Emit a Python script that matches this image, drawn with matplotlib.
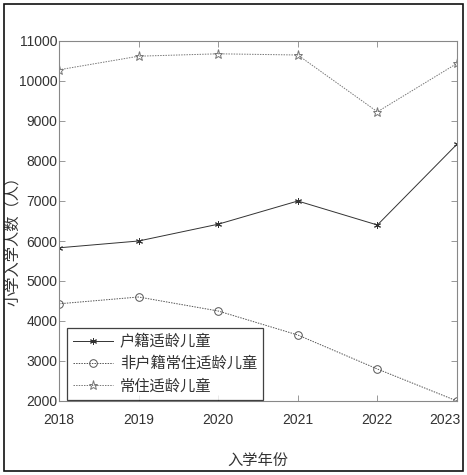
import matplotlib
matplotlib.use("Agg")
import matplotlib.pyplot as plt
from matplotlib.patches import Rectangle
from matplotlib.transforms import ScaledTranslation

plt.rcParams['font.family'] = ['Liberation Sans', 'Noto Sans CJK SC', 'DejaVu Sans']

years = [2018, 2019, 2020, 2021, 2022, 2023]
huji = [5830, 6000, 6420, 7000, 6400, 8420]
feihuji = [4430, 4600, 4250, 3650, 2800, 2000]
changzhu = [10280, 10620, 10680, 10650, 9230, 10440]
labels = ['户籍适龄儿童', '非户籍常住适龄儿童', '常住适龄儿童']
yticks = [2000, 3000, 4000, 5000, 6000, 7000, 8000, 9000, 10000, 11000]

W, H = 467, 475
fig = plt.figure(figsize=(W/100, H/100), dpi=100)
ax = fig.add_axes([59/W, 1-401/H, (457-59)/W, (401-41)/H])

ax.plot(years, huji, color='#333333', lw=0.7, ls='-', marker=(6, 2, 0), ms=5, mew=0.7,
        label=labels[0])
ax.plot(years, feihuji, color='#555555', lw=0.7, ls=(0, (1.5, 1.2)), marker='o', ms=5.5,
        mfc='none', mew=0.7, label=labels[1])
ax.plot(years, changzhu, color='#777777', lw=0.7, ls=(0, (1.5, 1.2)), marker='*', ms=6.5,
        mfc='none', mew=0.7, label=labels[2])

ax.set_xlim(2018, 2023)
ax.set_ylim(2000, 11000)
ax.set_xticks(years)
ax.set_yticks(yticks)
ax.tick_params(direction='in', top=True, right=True, length=4, width=0.6,
               color='#888888', labelsize=10, labelcolor='#333333')
ax.tick_params(axis='y', pad=1)
ax.tick_params(axis='x', pad=9)
for s in ax.spines.values():
    s.set_color('#888888')
    s.set_linewidth(0.8)

fig.canvas.draw()
last = ax.get_xticklabels()[-1]
last.set_transform(last.get_transform() + ScaledTranslation(-12/100, 0, fig.dpi_scale_trans))

ax.set_xlabel('入学年份', fontsize=11, color='#333333', labelpad=20)
ax.set_ylabel('小学入学人数（人）', fontsize=11, color='#333333')
ax.yaxis.set_label_coords(-0.098, 0.455)

leg = ax.legend(loc='lower left', bbox_to_anchor=((67-59)/(457-59), 0.003),
                fontsize=11, frameon=True, fancybox=False, borderpad=0.4,
                handlelength=2.6, handletextpad=0.45, labelspacing=0.5,
                borderaxespad=0)
leg.get_frame().set_edgecolor('#111111')
leg.get_frame().set_linewidth(0.9)
for t in leg.get_texts():
    t.set_color('#333333')

fig.patches.append(Rectangle((4/W, 1-471/H), (463-4)/W, (471-4)/H, transform=fig.transFigure,
                             fill=False, edgecolor='#111111', lw=1.2))

fig.savefig('out.png', dpi=100)
